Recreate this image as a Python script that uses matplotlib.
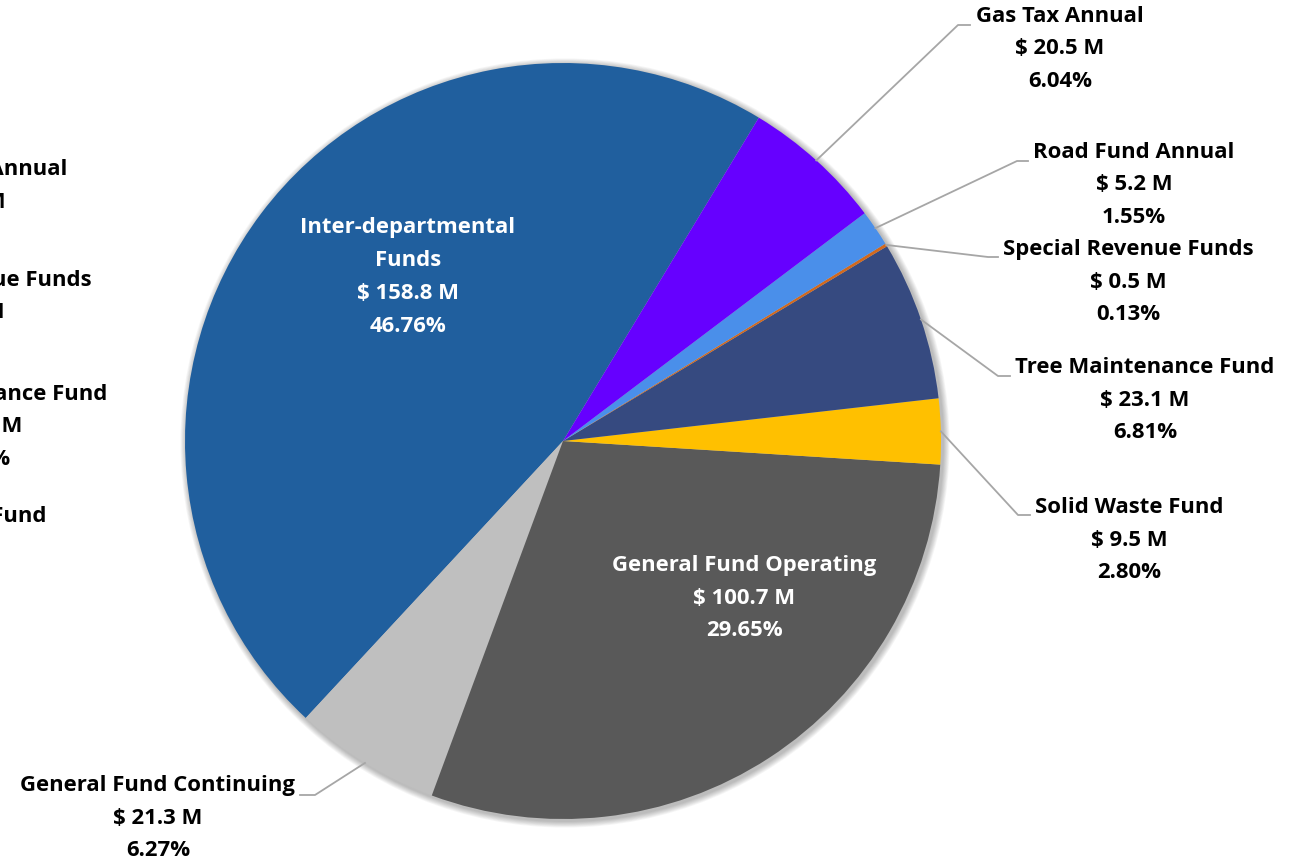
import matplotlib.pyplot as plt
import numpy as np

# fund data, counterclockwise from the Inter-departmental slice
funds = ["Inter-departmental\nFunds", "General Fund Continuing", "General Fund Operating",
         "Solid Waste Fund", "Tree Maintenance Fund", "Special Revenue Funds",
         "Road Fund Annual", "Gas Tax Annual"]
amounts = [158.8, 21.3, 100.7, 9.5, 23.1, 0.5, 5.2, 20.5]
shares = [46.76, 6.27, 29.65, 2.80, 6.81, 0.13, 1.55, 6.04]
colors = ["#205F9E", "#BFBFBF", "#595959", "#FFC000", "#364A80", "#D2691E", "#4A8FEA", "#6600FF"]

W, H = 1289, 863
cx, cy, R = 563, 863 - 441, 378

fig = plt.figure(figsize=(W / 100, H / 100), dpi=100)
ax = fig.add_axes([0, 0, 1, 1])

# soft drop shadow
for k in range(8):
    ax.add_patch(plt.Circle((cx + 2, cy - 2), R + 1 + k * 0.8, color="black",
                            alpha=0.035, lw=0, zorder=0))

wedges, _ = ax.pie(shares, colors=colors, startangle=58.8, counterclock=True,
                   center=(cx, cy), radius=R, frame=True,
                   wedgeprops=dict(linewidth=0))
ax.set_xlim(0, W)
ax.set_ylim(0, H)
ax.set_aspect("equal")
ax.axis("off")

font = dict(family=["Open Sans", "DejaVu Sans"], fontweight="bold", fontsize=15.9,
            ha="center", va="center", linespacing=1.73)

def label_text(i):
    return f"{funds[i]}\n$ {amounts[i]:.1f} M\n{shares[i]:.2f}%"

# inside labels (image pixel coords of text centre)
inside = {0: (408, 277), 2: (744, 598)}
for i, (x, y) in inside.items():
    ax.text(x, H - y, label_text(i), color="white", **font)

# outside labels: text centre, leader elbow, leader end
outside = {
    7: ((1060, 49), (958, 25), (970, 25)),
    6: ((1134, 185), (1017, 161), (1028, 161)),
    5: ((1128, 282), (988, 257), (998, 257)),
    4: ((1145, 400), (998, 376), (1010, 376)),
    3: ((1129, 540), (1018, 515), (1030, 515)),
    1: ((158, 818), (315, 795), (300, 795)),
}
for i, (txt, elbow, end) in outside.items():
    w = wedges[i]
    mid = np.deg2rad((w.theta1 + w.theta2) / 2)
    sx, sy = cx + R * np.cos(mid), cy + R * np.sin(mid)
    ax.plot([sx, elbow[0], end[0]], [sy, H - elbow[1], H - end[1]],
            color="#A6A6A6", lw=1.3, zorder=3)
    ax.text(txt[0], H - txt[1], label_text(i), color="black", **font)

# leftover labels partly off the left edge, as in the source image
ghost = {6: (-33, 202), 5: (-34, 313), 4: (-22, 427), 3: (-48, 549)}
for i, (x, y) in ghost.items():
    ax.text(x, H - y, label_text(i), color="black", clip_on=False, **font)

fig.savefig("out.png", dpi=100, facecolor="white")
